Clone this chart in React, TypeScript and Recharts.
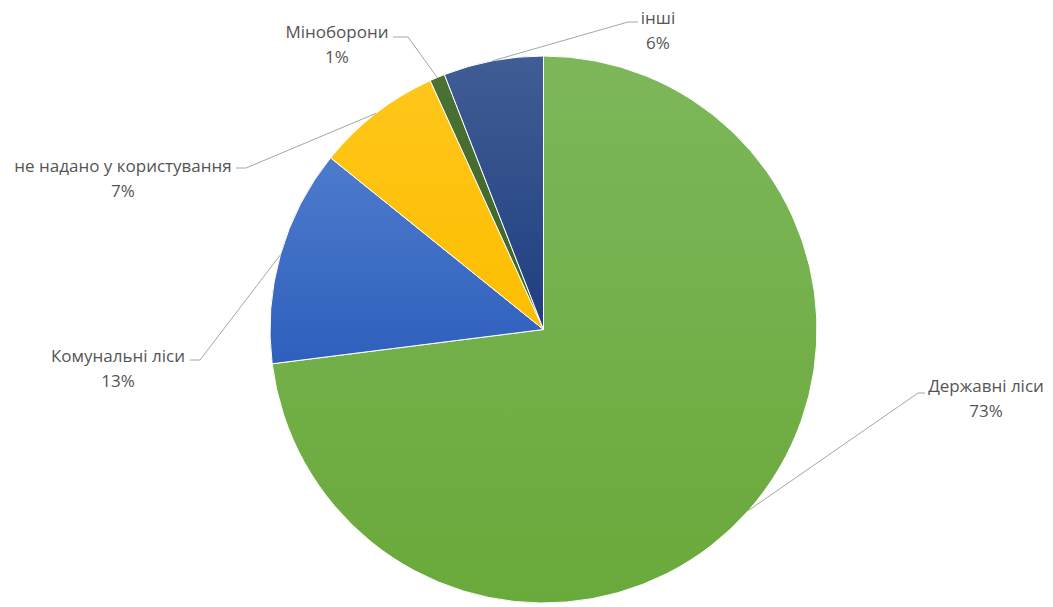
import { PieChart, Pie, Cell } from 'recharts';

// частки лісового фонду за категоріями
const categories = ['Державні ліси', 'Комунальні ліси', 'не надано у користування', 'Міноборони', 'інші'];
const shares = [73.0, 12.8, 7.4, 0.9, 5.9];

const data = categories.map((name, i) => ({ name, value: shares[i] }));

// top / bottom gradient stops per slice
const GRADIENTS = [
  ['#7db75a', '#6aa93b'],
  ['#4d7bcc', '#2f5fbd'],
  ['#ffc61a', '#fdbe00'],
  ['#4a7233', '#3f6428'],
  ['#415d96', '#1f3e80'],
];

// label layout, relative to the pie centre: elbow point, end of short horizontal, text centre
const LABEL_LAYOUT = [
  { ex: 374.5, ey: 63.5, hx: 381.5, tx: 442.5, ty: 55.5 },
  { ex: -343.5, ey: 30.5, hx: -353.5, tx: -425.5, ty: 25.5 },
  { ex: -297.5, ey: -161.5, hx: -307.5, tx: -420.5, ty: -164.5 },
  { ex: -135.5, ey: -292.5, hx: -150.5, tx: -206.5, ty: -298.5 },
  { ex: 84.5, ey: -307.5, hx: 94.5, tx: 114.5, ty: -312.5 },
];

const RADIAN = Math.PI / 180;

const renderLabel = (props: any) => {
  const { cx, cy, midAngle, outerRadius, index, name, percent } = props;
  const l = LABEL_LAYOUT[index];
  const sx = cx + outerRadius * Math.cos(-midAngle * RADIAN);
  const sy = cy + outerRadius * Math.sin(-midAngle * RADIAN);
  return (
    <g>
      <path
        d={`M${sx},${sy}L${cx + l.ex},${cy + l.ey}L${cx + l.hx},${cy + l.ey}`}
        stroke="#a6a6a6"
        strokeWidth={1}
        fill="none"
      />
      <text x={cx + l.tx} y={cy + l.ty} textAnchor="middle" dominantBaseline="central" fill="#555555" fontSize={17}>
        {name}
      </text>
      <text x={cx + l.tx} y={cy + l.ty + 25} textAnchor="middle" dominantBaseline="central" fill="#555555" fontSize={17}>
        {`${Math.round(percent * 100)}%`}
      </text>
    </g>
  );
};

export default function App() {
  return (
    <div style={{ position: 'absolute', left: 0, top: 0, width: 1053, height: 607, background: '#fff', fontFamily: '"Open Sans", sans-serif' }}>
      <PieChart width={1053} height={607} margin={{ top: 0, right: 0, bottom: 0, left: 0 }}>
        <defs>
          {GRADIENTS.map((g, i) => (
            <linearGradient key={i} id={`grad-${i}`} x1="0" y1="0" x2="0" y2="1">
              <stop offset="0%" stopColor={g[0]} />
              <stop offset="100%" stopColor={g[1]} />
            </linearGradient>
          ))}
        </defs>
        <Pie
          data={data}
          dataKey="value"
          nameKey="name"
          cx={543.5}
          cy={329.5}
          outerRadius={273.5}
          startAngle={90}
          endAngle={-270}
          stroke="#ffffff"
          strokeWidth={1}
          labelLine={false}
          label={renderLabel}
          isAnimationActive={false}
        >
          {data.map((entry, index) => (
            <Cell key={`cell-${index}`} fill={`url(#grad-${index})`} />
          ))}
        </Pie>
      </PieChart>
    </div>
  );
}
